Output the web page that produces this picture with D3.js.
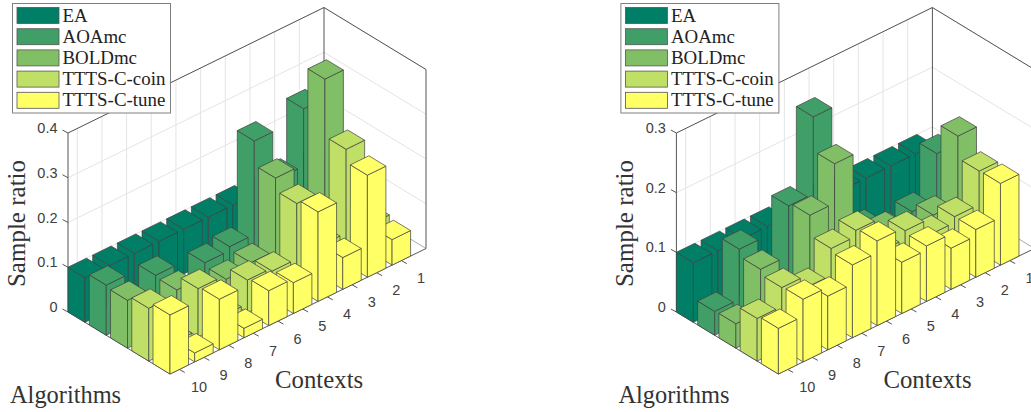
<!DOCTYPE html>
<html>
<head>
<meta charset="utf-8">
<script src="https://cdn.jsdelivr.net/npm/d3@7/dist/d3.min.js"></script>
<style>
html,body{margin:0;padding:0;background:#fff;overflow:hidden}
svg{display:block}
</style>
</head>
<body>
<svg id="chart" width="1031" height="412"></svg>
<script>
// ---- data (index 0 = context 1 ... index 9 = context 10)
const algorithms = ["EA","AOAmc","BOLDmc","TTTS-C-coin","TTTS-C-tune"];
const contexts = [1,2,3,4,5,6,7,8,9,10];
const colors = ["#007f66","#409f66","#80bf66","#bfdf66","#ffff66"];

const leftEA    = [.1,.1,.1,.1,.1,.1,.1,.1,.1,.1];
const leftAOA   = [.003,.29,.162,.272,.063,.054,.003,.08,.003,.112];
const leftBOLD  = [.03,.385,.07,.218,.056,.046,.005,.076,.005,.107];
const leftCoin  = [.063,.257,.07,.19,.066,.073,.02,.108,.015,.118];
const leftTune  = [.057,.228,.071,.2,.069,.078,.021,.113,.02,.132];
const leftTicks = [0,0.1,0.2,0.3,0.4];

const rightEA   = [.1,.1,.1,.1,.1,.1,.1,.1,.1,.1];
const rightAOA  = [.122,.045,.032,.057,.08,.285,.156,.05,.124,.04];
const rightBOLD = [.173,.061,.04,.075,.07,.228,.162,.04,.112,.041];
const rightCoin = [.136,.08,.07,.097,.083,.138,.128,.083,.103,.0715];
const rightTune = [.137,.08,.069,.093,.086,.142,.122,.09,.105,.0765];
const rightTicks = [0,0.1,0.2,0.3];

const SERIF = "'Liberation Serif','DejaVu Serif',serif";
const SANS = "'Liberation Sans',Arial,sans-serif";
const svg = d3.select("#chart");

// oblique projection built from linear scales
const uX = d3.scaleLinear().domain([0.6,5.4]).range([0,102]);
const uY = d3.scaleLinear().domain([0.6,5.4]).range([0,62]);
const vX = d3.scaleLinear().domain([10.375,0]).range([0,256]);
const vY = d3.scaleLinear().domain([10.375,0]).range([0,-125.5]);
const halfU = 0.4, halfV = 0.375, UMIN=0.6, UMAX=5.4, VMIN=0, VMAX=10.375;

function panel(dx, series, ticks, zMax){
  const g = svg.append("g").attr("transform",`translate(${dx},0)`);
  const z = d3.scaleLinear().domain([0,zMax]).range([0,179]);
  const P = (u,v,h)=>[68+uX(u)+vX(v), 312+uY(u)+vY(v)-z(h)];
  const line = (a,b,c,w)=>g.append("line")
     .attr("x1",a[0]).attr("y1",a[1]).attr("x2",b[0]).attr("y2",b[1])
     .attr("stroke",c).attr("stroke-width",w);
  const GRID="#e4e4e4", EDGE="#555";
  // grid on walls and floor
  ticks.forEach(t=>{
    if(t===0) return;
    line(P(UMIN,VMIN,t),P(UMIN,VMAX,t),GRID,1);
    line(P(UMIN,VMIN,t),P(UMAX,VMIN,t),GRID,1);
  });
  contexts.forEach(c=>{
    line(P(UMIN,c,0),P(UMIN,c,zMax),GRID,1);
    line(P(UMIN,c,0),P(UMAX,c,0),GRID,1);
  });
  // box
  line(P(UMIN,VMAX,0),P(UMIN,VMAX,zMax),EDGE,1);
  line(P(UMIN,VMAX,zMax),P(UMIN,VMIN,zMax),EDGE,1);
  line(P(UMIN,VMIN,zMax),P(UMAX,VMIN,zMax),EDGE,1);
  line(P(UMIN,VMIN,0),P(UMIN,VMIN,zMax),EDGE,1);
  line(P(UMAX,VMIN,0),P(UMAX,VMIN,zMax),EDGE,1);
  line(P(UMIN,VMIN,0),P(UMAX,VMIN,0),"#aaa",1);
  line(P(UMIN,VMAX,0),P(UMAX,VMAX,0),EDGE,1);
  line(P(UMAX,VMAX,0),P(UMAX,VMIN,0),EDGE,1);
  // ticks
  ticks.forEach(t=>{
    const a=P(UMIN,VMAX,t);
    line([a[0]-5.5,a[1]-3],a,EDGE,1);
    g.append("text").attr("x",a[0]-10.5).attr("y",a[1]-5)
     .attr("text-anchor","end").attr("dominant-baseline","central")
     .attr("font-family",SANS).attr("font-size",14.5).attr("fill","#404040").text(t);
  });
  contexts.forEach(c=>{
    const a=P(UMAX,c,0);
    line(a,[a[0]+5.5,a[1]+3],EDGE,1);
    g.append("text").attr("x",a[0]+19.7).attr("y",a[1]+17.5)
     .attr("text-anchor","middle").attr("dominant-baseline","central")
     .attr("font-family",SANS).attr("font-size",14.5).attr("fill","#404040").text(c);
  });
  // bars, painted back to front
  const poly=(pts,fill)=>g.append("polygon")
     .attr("points",pts.map(p=>p.join(",")).join(" "))
     .attr("fill",fill).attr("stroke","#3f3f3f").attr("stroke-width",0.7).attr("stroke-linejoin","round");
  contexts.forEach((c,ci)=>{
    algorithms.forEach((a,ai)=>{
      const u=ai+1, h=series[ai][ci], col=colors[ai];
      const u0=u-halfU,u1=u+halfU,v0=c-halfV,v1=c+halfV;
      poly([P(u0,v1,0),P(u1,v1,0),P(u1,v1,h),P(u0,v1,h)],col);
      poly([P(u1,v1,0),P(u1,v0,0),P(u1,v0,h),P(u1,v1,h)],col);
      poly([P(u0,v1,h),P(u1,v1,h),P(u1,v0,h),P(u0,v0,h)],col);
    });
  });
  // labels
  const label=(x,y,t,rot,size)=>{
    const e=g.append("text").attr("font-family",SERIF).attr("font-size",size)
      .attr("fill","#333").text(t);
    if(rot) e.attr("transform",`translate(${x},${y}) rotate(-90)`).attr("text-anchor","middle");
    else e.attr("x",x).attr("y",y);
  };
  label(25,223.5,"Sample ratio",true,25);
  label(275,388,"Contexts",false,24.8);
  label(10,403,"Algorithms",false,24.4);
  // legend
  g.append("rect").attr("x",12.5).attr("y",3.5).attr("width",158).attr("height",109.5)
   .attr("fill","#fff").attr("stroke","#808080").attr("stroke-width",1);
  algorithms.forEach((a,i)=>{
    const y=7.5+i*21.2;
    g.append("rect").attr("x",17).attr("y",y).attr("width",42).attr("height",16)
     .attr("fill",colors[i]).attr("stroke","#555").attr("stroke-width",0.8);
    g.append("text").attr("x",62.5).attr("y",y+7.5).attr("dominant-baseline","central")
     .attr("font-family",SERIF).attr("font-size",18.9).attr("fill","#222").text(a);
  });
}
panel(0,[leftEA,leftAOA,leftBOLD,leftCoin,leftTune],leftTicks,0.4);
panel(608.4,[rightEA,rightAOA,rightBOLD,rightCoin,rightTune],rightTicks,0.3);
</script>
</body>
</html>
